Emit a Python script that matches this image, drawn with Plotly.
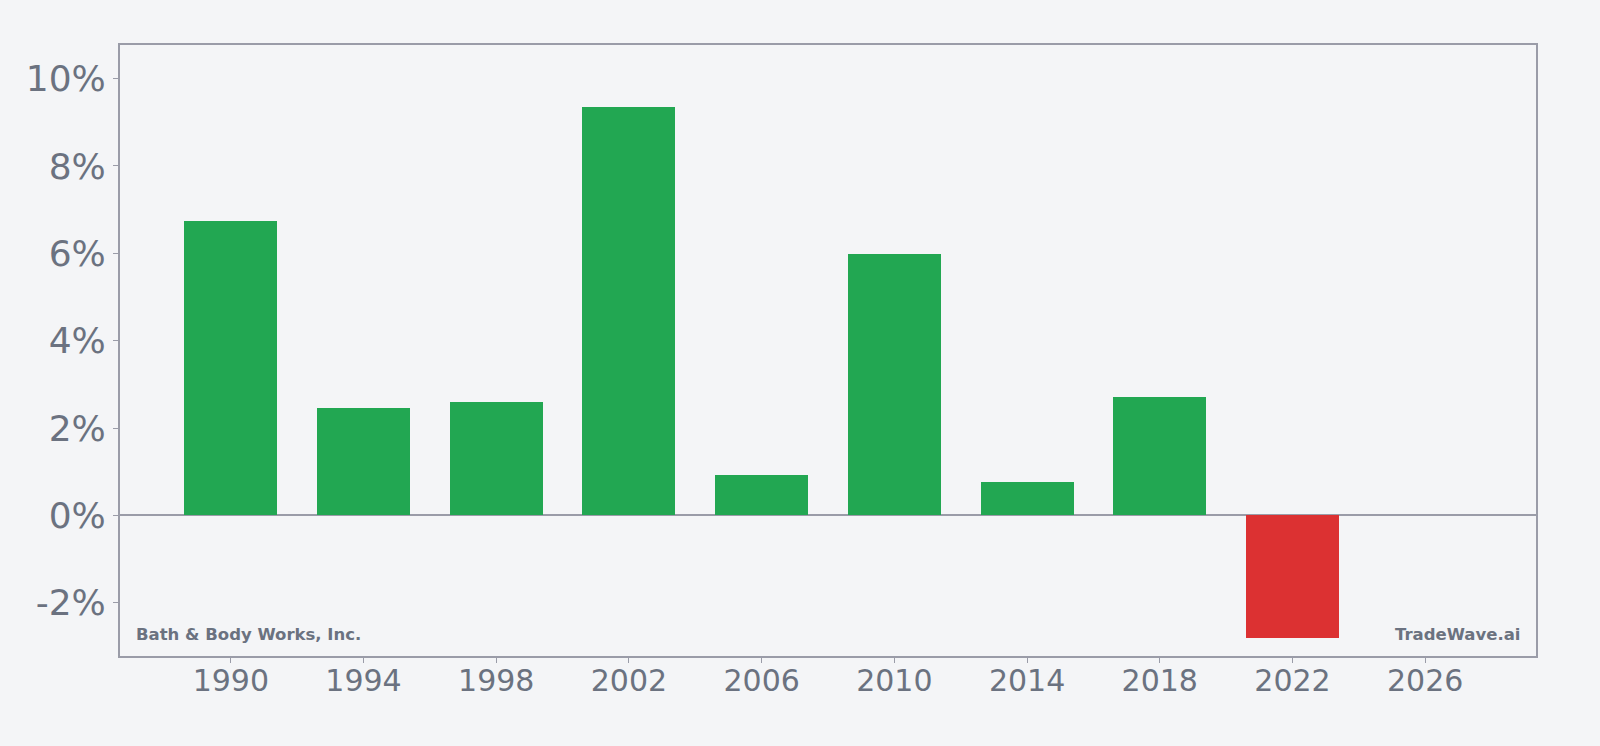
import plotly.graph_objects as go

# yearly return per bar (percent)
years = [1990, 1994, 1998, 2002, 2006, 2010, 2014, 2018, 2022]
returns = [6.73, 2.45, 2.59, 9.36, 0.93, 5.98, 0.77, 2.71, -2.80]

tick_years = [1990, 1994, 1998, 2002, 2006, 2010, 2014, 2018, 2022, 2026]
tick_pcts = [-2, 0, 2, 4, 6, 8, 10]

GREEN = "#22a752"
RED = "#dc3132"
GREY_TEXT = "#6b7280"
AXIS_GREY = "#9a9ca8"
BG = "#f4f5f7"


def bar_colors(vals):
    return [GREEN if v >= 0 else RED for v in vals]


fig = go.Figure(
    go.Bar(
        x=years,
        y=returns,
        width=2.8,
        marker_color=bar_colors(returns),
        marker_line_width=0,
        hovertemplate="%{x}: %{y:.2f}%<extra></extra>",
    )
)

fig.update_layout(
    width=1600,
    height=746,
    paper_bgcolor=BG,
    plot_bgcolor=BG,
    margin=dict(l=120, r=64, t=45, b=90),
    font=dict(family="DejaVu Sans", color=GREY_TEXT),
    showlegend=False,
    bargap=0,
)

fig.update_xaxes(
    range=[1986.66, 2029.34],
    tickvals=tick_years,
    ticktext=[str(y) for y in tick_years],
    tickfont=dict(size=30, color=GREY_TEXT),
    ticks="outside",
    ticklen=5,
    tickcolor=AXIS_GREY,
    ticklabelstandoff=-8,
    showline=True,
    linecolor=AXIS_GREY,
    linewidth=2,
    mirror=True,
    showgrid=False,
    zeroline=False,
)

fig.update_yaxes(
    range=[-3.22, 10.77],
    tickvals=tick_pcts,
    ticktext=[f"{v}%" for v in tick_pcts],
    tickfont=dict(size=36, color=GREY_TEXT),
    ticks="outside",
    ticklen=5,
    tickcolor=AXIS_GREY,
    showline=True,
    linecolor=AXIS_GREY,
    linewidth=2,
    mirror=True,
    showgrid=False,
    zeroline=True,
    zerolinecolor=AXIS_GREY,
    zerolinewidth=2,
)

fig.add_annotation(
    text="<b>Bath & Body Works, Inc.</b>",
    xref="paper", yref="paper", x=0.0099, y=0.036,
    xanchor="left", yanchor="middle", showarrow=False,
    font=dict(size=16.5, color=GREY_TEXT),
)
fig.add_annotation(
    text="<b>TradeWave.ai</b>",
    xref="paper", yref="paper", x=0.9898, y=0.036,
    xanchor="right", yanchor="middle", showarrow=False,
    font=dict(size=16.5, color=GREY_TEXT),
)

# drop the page margin so the figure fills the window
fig.write_html(
    "out.html",
    config={"displayModeBar": False},
    post_script="document.body.style.margin='0';",
)
